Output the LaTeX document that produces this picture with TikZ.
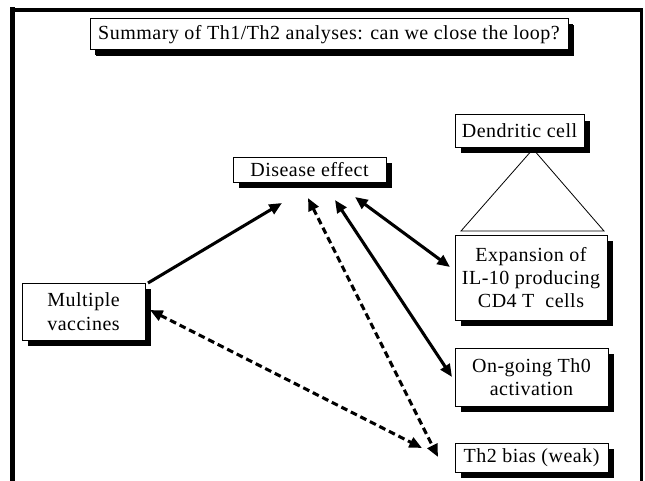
\documentclass[tikz,border=0pt]{standalone}
\usepackage{fontspec}
\setmainfont[LetterSpace=2.5]{Liberation Serif}
\usetikzlibrary{arrows.meta,shadows,calc}
\begin{document}
\begin{tikzpicture}[x=0.75pt,y=-0.75pt,
  box/.style={draw=black, line width=0.75pt, fill=white, align=center, inner sep=0pt,
    font=\fontsize{15pt}{17.5pt}\selectfont,
    drop shadow={fill=black, opacity=1, shadow xshift=4.5pt, shadow yshift=-4.5pt}},
  conn/.style={line width=2.3pt, -{Triangle[length=9.5pt,width=8pt]}},
  conn2/.style={line width=2.3pt, {Triangle[length=9.5pt,width=8pt]}-{Triangle[length=9.5pt,width=8pt]}},
  dashconn/.style={conn2, dash pattern=on 5pt off 3pt},
  frameline/.style={line cap=rect}
]
\useasboundingbox (0,0) rectangle (645,481);
% frame
\draw[frameline, line width=3.75pt] (12.5,485) -- (12.5,10);
\draw[frameline, line width=2.5pt] (12.5,10) -- (641.7,10);
\draw[frameline, line width=2.5pt] (641.7,10) -- (641.7,485);

% nodes
\node[box, minimum width=358.5pt, minimum height=23.25pt,
  drop shadow={fill=black, opacity=1, shadow xshift=3.75pt, shadow yshift=-3.75pt}]
  (title) at (329,34.5) {Summary of Th1/Th2 analyses: can we close the loop?};
\node[box, minimum width=96.75pt, minimum height=24pt] (dend) at (519.5,131) {Dendritic cell};
\node[box, minimum width=114.75pt, minimum height=18.75pt] (dis) at (309.5,169.5) {Disease effect};
\node[box, minimum width=114pt, minimum height=63.75pt] (exp) at (531,277.5) {Expansion of\\IL-10 producing\\CD4 T\ \ cells};
\node[box, minimum width=114.75pt, minimum height=43.5pt] (ong) at (531.5,377) {On-going Th0\\activation};
\node[box, minimum width=114.75pt, minimum height=21.75pt] (th2) at (531.5,457.5) {Th2 bias (weak)};
\node[box, minimum width=92.25pt, minimum height=42.75pt] (vac) at (83.5,311.5) {Multiple\\vaccines};

% triangle
\coordinate (apex) at (533,149);
\coordinate (bl) at (461,231);
\coordinate (br) at (604,231);
\draw[line width=0.6pt] (bl) -- (apex) -- (br) -- cycle;

% connector end points
\coordinate (v1) at (148,283);
\coordinate (d1) at (282,203);
\coordinate (v2) at (150,310);
\coordinate (t1) at (422,448);
\coordinate (d2) at (308,198);
\coordinate (t2) at (438,457);
\coordinate (d3) at (335,200);
\coordinate (o1) at (452,377);
\coordinate (d4) at (355,197);
\coordinate (e1) at (450,267);

\draw[conn] (v1) -- (d1);
\draw[dashconn] (v2) -- (t1);
\draw[dashconn] (d2) -- (t2);
\draw[conn2] (d3) -- (o1);
\draw[conn2] (d4) -- (e1);
\end{tikzpicture}
\end{document}
